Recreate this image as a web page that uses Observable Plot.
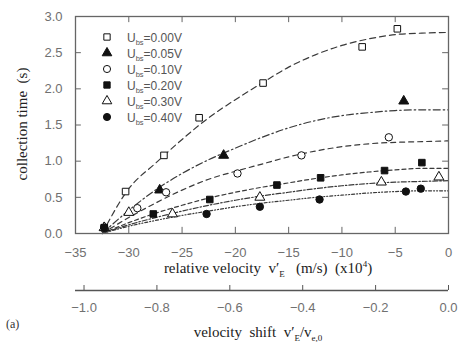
<!DOCTYPE html>
<html><head><meta charset="utf-8">
<script src="https://cdn.jsdelivr.net/npm/d3@7"></script>
<script src="https://cdn.jsdelivr.net/npm/@observablehq/plot@0.6"></script>
<style>
body{margin:0;background:#fff;}
#chart{position:relative;width:458px;height:342px;}
svg{display:block;}
</style></head><body><div id="chart"></div>
<script>
// ---- data ----
const biasLabels = ["0.00", "0.05", "0.10", "0.20", "0.30", "0.40"];
const symbols = ["square", "triangle", "circle", "square", "triangle", "circle"];
const filled = [false, true, false, true, false, true];
const dashes = ["6,4", "7,3,1.5,3", "5,4", "4,3", "5,2,1.5,2", "3,2,1,2,1,2"];

// fitted curves (common x grid, 10^4 m/s)
const fitX = [-32.5, -30, -27.5, -25, -22.5, -20, -17.5, -15, -12.5, -10, -7.5, -5, -2.5, 0];
const fit000 = [0, 0.62, 0.97, 1.30, 1.60, 1.85, 2.08, 2.30, 2.47, 2.60, 2.69, 2.75, 2.77, 2.78];
const fit005 = [0, 0.32, 0.60, 0.83, 1.02, 1.18, 1.33, 1.46, 1.56, 1.63, 1.67, 1.70, 1.71, 1.71];
const fit010 = [0, 0.22, 0.42, 0.60, 0.75, 0.86, 0.96, 1.06, 1.14, 1.20, 1.24, 1.26, 1.27, 1.28];
const fit020 = [0, 0.15, 0.28, 0.39, 0.49, 0.57, 0.64, 0.70, 0.76, 0.81, 0.85, 0.88, 0.90, 0.90];
const fit030 = [0, 0.12, 0.22, 0.31, 0.39, 0.46, 0.52, 0.57, 0.62, 0.66, 0.69, 0.71, 0.72, 0.73];
const fit040 = [0, 0.10, 0.18, 0.25, 0.31, 0.37, 0.42, 0.46, 0.50, 0.53, 0.56, 0.58, 0.59, 0.59];

// measured points [relative velocity (10^4 m/s), collection time (s)]
const obs000 = [[-32.3, 0.08], [-30.3, 0.58], [-26.7, 1.08], [-23.4, 1.60], [-17.4, 2.08], [-8.1, 2.58], [-4.8, 2.83]];
const obs005 = [[-32.3, 0.08], [-27.1, 0.60], [-21.1, 1.08], [-4.2, 1.83]];
const obs010 = [[-32.3, 0.08], [-29.2, 0.35], [-26.5, 0.57], [-19.8, 0.83], [-13.8, 1.08], [-5.6, 1.33]];
const obs020 = [[-32.3, 0.08], [-27.7, 0.27], [-22.4, 0.47], [-16.1, 0.67], [-12.0, 0.77], [-6.0, 0.87], [-2.5, 0.98]];
const obs030 = [[-32.3, 0.08], [-30.0, 0.29], [-25.9, 0.27], [-17.7, 0.50], [-6.3, 0.71], [-0.9, 0.78]];
const obs040 = [[-32.3, 0.08], [-22.7, 0.27], [-17.7, 0.37], [-12.1, 0.47], [-4.0, 0.58], [-2.6, 0.62]];

const xTicks = [-35, -30, -25, -20, -15, -10, -5, 0];
const yTicks = [0, 0.5, 1.0, 1.5, 2.0, 2.5, 3.0];
const shiftTicks = [-1.0, -0.8, -0.6, -0.4, -0.2, 0.0];
const ve0 = 34.2; // velocity scale for the second axis (10^4 m/s)

// ---- build ----
const fits = [fit000, fit005, fit010, fit020, fit030, fit040];
const obs = [obs000, obs005, obs010, obs020, obs030, obs040];
const tickFont = "Liberation Sans, Arial, sans-serif";
const labelFont = "Liberation Serif, Times New Roman, serif";
const tickColor = "#707070";
const tlx = 0.55, tly = 0.085; // inward tick lengths in data units

const marks = [];
fits.forEach((f, i) => {
  marks.push(Plot.line(fitX.map((x, j) => ({x, y: f[j]})), {
    x: "x", y: "y", curve: "monotone-x", stroke: "#3a3a3a", strokeWidth: 1.2, strokeDasharray: dashes[i]
  }));
});
obs.forEach((o, i) => {
  marks.push(Plot.dot(o.map(([x, y]) => ({x, y})), {
    x: "x", y: "y", symbol: symbols[i], r: 3.7,
    fill: filled[i] ? "#111" : "white", stroke: "#111", strokeWidth: 1
  }));
});
// inward ticks on all four sides
marks.push(Plot.ruleX(xTicks, {x: d => d, y1: 0, y2: tly, stroke: "#666"}));
marks.push(Plot.ruleX(xTicks, {x: d => d, y1: 3, y2: 3 - tly, stroke: "#666"}));
marks.push(Plot.ruleY(yTicks, {y: d => d, x1: -35, x2: -35 + tlx, stroke: "#666"}));
marks.push(Plot.ruleY(yTicks, {y: d => d, x1: 0, x2: -tlx, stroke: "#666"}));
marks.push(Plot.frame({stroke: "#666", strokeWidth: 1.3}));
marks.push(Plot.axisX({ticks: xTicks, tickSize: 0, tickPadding: 14, label: null,
  tickFormat: d3.format("d"), fontSize: 13, fill: tickColor, fontFamily: tickFont}));
marks.push(Plot.axisY({ticks: yTicks, tickSize: 0, tickPadding: 13, label: null,
  tickFormat: d3.format(".1f"), fontSize: 13, fill: tickColor, fontFamily: tickFont}));

const main = Plot.plot({
  width: 458, height: 276,
  marginLeft: 75, marginRight: 10, marginTop: 16, marginBottom: 43,
  x: {domain: [-35, 0]},
  y: {domain: [0, 3]},
  style: {background: "white", overflow: "visible"},
  marks
});

const second = Plot.plot({
  width: 458, height: 66,
  marginLeft: 75, marginRight: 10, marginTop: 9, marginBottom: 52,
  x: {domain: [-35 / ve0, 0]},
  y: {domain: [0, 1]},
  style: {background: "white", overflow: "visible"},
  marks: [
    Plot.ruleY([0], {stroke: "#555", strokeWidth: 1.3}),
    Plot.tickX(shiftTicks, {x: d => d, stroke: "#555"}),
    Plot.axisX({ticks: shiftTicks, tickSize: 0, tickPadding: 12, label: null,
      tickFormat: d3.format(".1f"), fontSize: 13, fill: tickColor, fontFamily: tickFont}),
    Plot.axisY({ticks: [], label: null, tickSize: 0})
  ]
});

const root = document.getElementById("chart");
root.appendChild(main);
root.appendChild(second);

// axis titles with sub/superscripts
const ms = d3.select(main);
const t1 = ms.append("text").attr("x", 268).attr("y", 273).attr("text-anchor", "middle")
  .attr("font-family", labelFont).attr("font-size", 15).attr("fill", "#222");
t1.append("tspan").text("relative velocity  v\u2032");
t1.append("tspan").attr("font-size", 9).attr("dy", 4).text("E");
t1.append("tspan").attr("dy", -4).text("   (m/s)  (x10");
t1.append("tspan").attr("font-size", 9).attr("dy", -6).text("4");
t1.append("tspan").attr("dy", 6).text(")");

ms.append("text").attr("transform", "translate(27,124) rotate(-90)").attr("text-anchor", "middle")
  .attr("font-family", labelFont).attr("font-size", 15).attr("fill", "#222")
  .text("collection time  (s)");

// legend
const leg = ms.append("g").attr("text-anchor", "start");
biasLabels.forEach((b, i) => {
  const y = 37 + i * 16;
  const type = symbols[i] === "square" ? d3.symbolSquare : symbols[i] === "triangle" ? d3.symbolTriangle : d3.symbolCircle;
  leg.append("path").attr("d", d3.symbol(type, 40)()).attr("transform", `translate(107,${y})`)
    .attr("fill", filled[i] ? "#111" : "white").attr("stroke", "#111");
  const t = leg.append("text").attr("x", 127).attr("y", y + 4.5).attr("text-anchor", "start")
    .attr("font-family", tickFont).attr("font-size", 12).attr("fill", "#555");
  t.append("tspan").text("U");
  t.append("tspan").attr("font-size", 7.5).attr("dy", 3).text("bs");
  t.append("tspan").attr("dy", -3).text("=" + b + "V");
});

const ss = d3.select(second);
const t2 = ss.append("text").attr("x", 258).attr("y", 61).attr("text-anchor", "middle")
  .attr("font-family", labelFont).attr("font-size", 15).attr("fill", "#222");
t2.append("tspan").text("velocity  shift  v\u2032");
t2.append("tspan").attr("font-size", 9).attr("dy", 4).text("E");
t2.append("tspan").attr("dy", -4).text("/v");
t2.append("tspan").attr("font-size", 9).attr("dy", 4).text("e,0");
ss.append("text").attr("x", 6).attr("y", 52).attr("text-anchor", "start").attr("font-family", labelFont)
  .attr("font-size", 12).attr("fill", "#333").text("(a)");
</script>
</body></html>
